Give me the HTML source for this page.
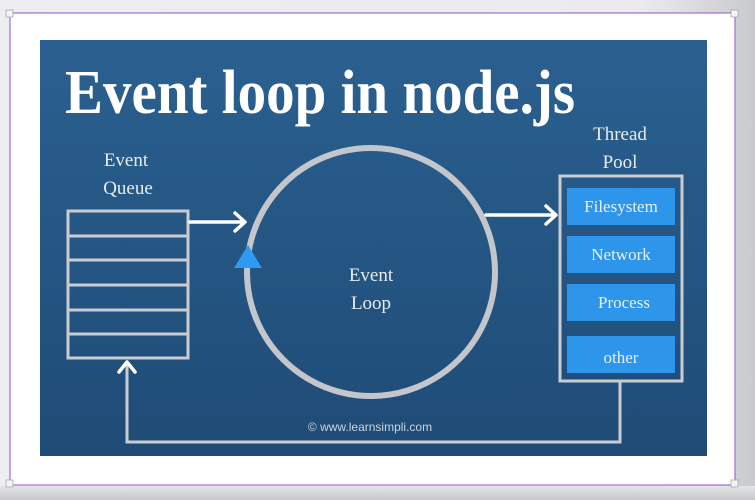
<!DOCTYPE html>
<html><head><style>
html,body{margin:0;padding:0;width:755px;height:500px;overflow:hidden;}
body{background:linear-gradient(90deg,#eceef1 0%,#e9ebee 85%,#c9cacd 100%);}
</style></head><body>
<svg width="755" height="500" viewBox="0 0 755 500" xmlns="http://www.w3.org/2000/svg" style="position:absolute;left:0;top:0">
<defs>
<linearGradient id="bg" x1="0" y1="0" x2="0" y2="1">
<stop offset="0" stop-color="#2a6090"/><stop offset="1" stop-color="#1f4b76"/>
</linearGradient>
<linearGradient id="bot" x1="0" y1="0" x2="0" y2="1">
<stop offset="0" stop-color="#e4e5e8"/><stop offset="1" stop-color="#c6c7ca"/>
</linearGradient>
</defs>
<rect x="0" y="486" width="755" height="14" fill="url(#bot)"/>
<rect x="10" y="13" width="725" height="472" fill="#ffffff" stroke="#a56ad6" stroke-width="1.2"/>
<rect x="6" y="10" width="7" height="7" fill="#f4f4f4" stroke="#aaa" stroke-width="0.8"/>
<rect x="731" y="10" width="7" height="7" fill="#f4f4f4" stroke="#aaa" stroke-width="0.8"/>
<rect x="731" y="480" width="7" height="7" fill="#f4f4f4" stroke="#aaa" stroke-width="0.8"/>
<rect x="6" y="480" width="7" height="7" fill="#f4f4f4" stroke="#aaa" stroke-width="0.8"/>
<rect x="40" y="40" width="667" height="416" fill="url(#bg)"/>
<text x="65" y="113" font-family="Liberation Serif, serif" font-weight="bold" font-size="62" fill="#fff" textLength="510" lengthAdjust="spacingAndGlyphs">Event loop in node.js</text>
<g font-family="Liberation Serif, serif" font-size="19" fill="#e8edf2" text-anchor="middle">
<text x="126" y="166">Event</text><text x="128" y="194">Queue</text>
<text x="620" y="140">Thread</text><text x="620" y="168">Pool</text>
<text x="371" y="281">Event</text><text x="371" y="309">Loop</text>
</g>
<g stroke="#c9ccd0" stroke-width="3" fill="none">
<rect x="68" y="211" width="120" height="147"/>
<line x1="68" y1="236" x2="188" y2="236"/><line x1="68" y1="260" x2="188" y2="260"/>
<line x1="68" y1="285" x2="188" y2="285"/><line x1="68" y1="310" x2="188" y2="310"/>
<line x1="68" y1="334" x2="188" y2="334"/>
<rect x="560" y="176" width="122" height="205"/>
<polyline points="620,381 620,442 127,442 127,362"/>
</g>
<circle cx="371" cy="272" r="124" fill="none" stroke="#c3c7cc" stroke-width="6"/>
<polygon points="248,245 234,268 262,268" fill="#2f9af0"/>
<g stroke="#fff" stroke-width="3.5" fill="none" stroke-linecap="round" stroke-linejoin="round">
<line x1="190" y1="222" x2="244" y2="222"/><polyline points="235,213 245,222 235,231"/>
<line x1="486" y1="215" x2="555" y2="215"/><polyline points="546,206 556,215 546,224"/>
<polyline points="119,372 127,362 135,372"/>
</g>
<g fill="#2d95ea">
<rect x="567" y="188" width="108" height="37"/>
<rect x="567" y="236" width="108" height="37"/>
<rect x="567" y="284" width="108" height="37"/>
<rect x="567" y="336" width="108" height="37"/>
</g>
<g font-family="Liberation Serif, serif" font-size="17" fill="#e6f1fb" text-anchor="middle">
<text x="621" y="212">Filesystem</text>
<text x="621" y="260">Network</text>
<text x="624" y="308">Process</text>
<text x="621" y="363">other</text>
</g>
<text x="370" y="431" font-family="Liberation Sans, sans-serif" font-size="12" fill="#c9d3dd" text-anchor="middle">© www.learnsimpli.com</text>
</svg>
</body></html>
